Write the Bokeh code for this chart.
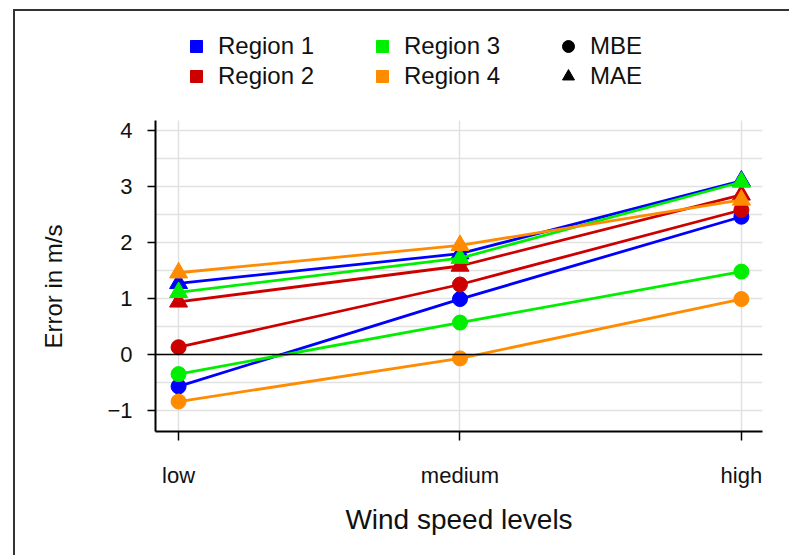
from bokeh.plotting import figure
from bokeh.models import Range1d, FixedTicker, Span, Legend, LegendItem, Title
from bokeh.embed import file_html
from bokeh.resources import INLINE

# ---- data ----
levels = ["low", "medium", "high"]
xpos = [0, 1, 2]
regions = ["Region 1", "Region 2", "Region 3", "Region 4"]
colors = ["#0000FF", "#CD0000", "#00EE00", "#FF8C00"]

mbe_r1 = [-0.57, 0.99, 2.46]
mbe_r2 = [0.13, 1.25, 2.58]
mbe_r3 = [-0.35, 0.57, 1.48]
mbe_r4 = [-0.84, -0.07, 0.99]

mae_r1 = [1.27, 1.80, 3.10]
mae_r2 = [0.94, 1.58, 2.85]
mae_r3 = [1.11, 1.72, 3.08]
mae_r4 = [1.46, 1.95, 2.76]

mbe = [mbe_r1, mbe_r2, mbe_r3, mbe_r4]
mae = [mae_r1, mae_r2, mae_r3, mae_r4]

y_ticks = [-1, 0, 1, 2, 3, 4]
y_grid = [-1, -0.5, 0, 0.5, 1, 1.5, 2, 2.5, 3, 3.5, 4]
y_lo, y_hi = -1.375, 4.18

FONT = "Liberation Sans"
TXT = "#111111"

p = figure(width=789, height=555, output_backend="svg", toolbar_location=None,
           x_range=Range1d(-0.082, 2.075), y_range=Range1d(y_lo, 5.964),
           min_border_left=155, min_border_right=27, min_border_top=20,
           min_border_bottom=124)
p.styles = {
    "background-color": "white",
    "background-image": "linear-gradient(#333333, #333333), linear-gradient(#333333, #333333)",
    "background-size": "2px 100%, 100% 2px",
    "background-position": "13px 9px, 13px 9px",
    "background-repeat": "no-repeat",
}
p.outline_line_color = None
p.background_fill_color = None
p.border_fill_color = None

# grids
p.xgrid.ticker = FixedTicker(ticks=xpos)
p.xgrid.cross_bounds = (y_lo, y_hi)
p.ygrid.ticker = FixedTicker(ticks=y_grid)
for g in (p.xgrid, p.ygrid):
    g.grid_line_color = "#E1E1E1"
    g.grid_line_width = 1.5

p.add_layout(Span(location=0, dimension="width", line_color="black", line_width=1.5))

# axes
p.xaxis.ticker = FixedTicker(ticks=xpos)
p.xaxis.major_label_overrides = {x: l for x, l in zip(xpos, levels)}
p.yaxis.ticker = FixedTicker(ticks=y_ticks)
p.yaxis.major_label_overrides = {-1: "\u22121"}
p.yaxis.bounds = (y_lo, y_hi)
for ax in (p.xaxis, p.yaxis):
    ax.axis_line_color = "black"
    ax.axis_line_width = 2
    ax.major_tick_line_color = "black"
    ax.major_tick_line_width = 1.5
    ax.major_tick_in = 0
    ax.minor_tick_line_color = None
    ax.major_label_text_font = FONT
    ax.major_label_text_font_size = "22px"
    ax.major_label_text_color = TXT
    ax.axis_label_text_font = FONT
    ax.axis_label_text_font_style = "normal"
    ax.axis_label_text_font_size = "28px"
    ax.axis_label_text_color = TXT
p.xaxis.major_tick_out = 9
p.yaxis.major_tick_out = 8
p.xaxis.major_label_standoff = 22
p.yaxis.major_label_standoff = 15
p.xaxis.axis_label = "Wind speed levels"
p.xaxis.axis_label_standoff = 13

# y-axis title placed alongside the bounded axis
p.add_layout(Title(text="Error in m/s", align="left", offset=83,
                   vertical_align="top", standoff=72,
                   text_font=FONT, text_font_size="24px",
                   text_font_style="normal", text_color=TXT), "left")

# lines and markers
for col, b, a in zip(colors, mbe, mae):
    p.line(xpos, b, line_color=col, line_width=2.8)
    p.scatter(xpos, b, marker="circle", size=15, fill_color=col, line_color=col)
    p.line(xpos, a, line_color=col, line_width=2.8)
    p.scatter(xpos, a, marker="triangle", size=18, fill_color=col, line_color=col)

# legend (key renderers are hidden; only their legend glyphs show)
items = []
for name, col, b in zip(regions, colors, mbe):
    r = p.scatter(xpos, b, marker="square", fill_color=col, line_color=col, visible=False)
    items.append(LegendItem(label=name, renderers=[r]))
rc = p.scatter(xpos, mbe_r1, marker="circle", fill_color="black", line_color="black", visible=False)
rt = p.scatter(xpos, mae_r1, marker="triangle", fill_color="black", line_color="black", visible=False)
items.append(LegendItem(label="MBE", renderers=[rc]))
items.append(LegendItem(label="MAE", renderers=[rt]))

leg = Legend(items=items, location=(26, 340), orientation="vertical", nrows=2,
             glyph_width=30, glyph_height=30, label_standoff=7, spacing=0,
             padding=0, margin=0, border_line_color=None,
             background_fill_alpha=0, label_text_font=FONT,
             label_text_font_size="24px", label_text_color=TXT,
             label_height=30, label_width=149)
p.add_layout(leg, "center")

open("out.html", "w").write(file_html(p, INLINE))
